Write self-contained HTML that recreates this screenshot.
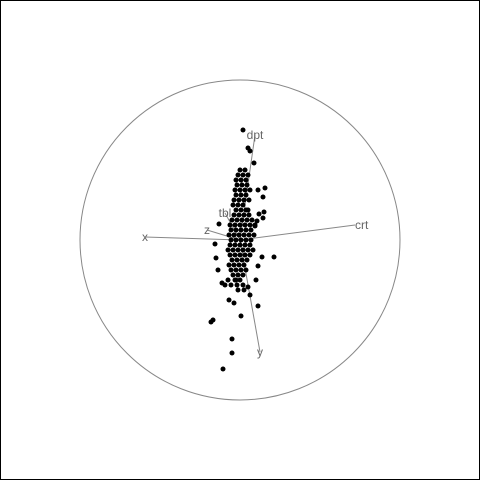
<!DOCTYPE html>
<html><head><meta charset="utf-8"><style>
html,body{margin:0;padding:0;background:#fff}
svg{display:block}
text{font-family:"Liberation Sans",sans-serif;font-size:12px;fill:#666}
</style></head><body>
<svg id="chart" width="480" height="480">
<rect x="0.5" y="0.5" width="479" height="479" fill="#fff" stroke="#000"/>
<circle cx="240" cy="240" r="160" fill="none" stroke="#888"/>
<g id="axes"></g>
<g id="pts"></g>
</svg>
<script>
// projected point positions (units: pixel offset from centre)
const ptX = [3,8,10,14,18,25,23,24,19,23,17,15,-21,-25,34,22,18,-22,-24,-18,-15,-29,-27,1,-8,-8,-17,18,8,16,10,-6,-11,-4,
0,5,-2,3,8,-4,1,6,-3,2,7,-5,0,5,10,-4,1,6,-6,-1,4,9,-7,-2,3,8,-4,1,6,-6,-1,4,9,-8,-3,2,7,12,-10,-5,0,5,10,15,-9,-4,1,6,11,-11,-6,-1,4,9,14,-9,-4,1,6,11,-10,-5,0,5,10,-12,-7,-2,3,8,13,-10,-5,0,5,10,-8,-3,2,7,-11,-6,-1,4,-9,-4,1,6,-7,-2,3,-12,-5,0,-9,-3,3,-2,4];
const ptY = [-110,-92,-89,-77,-50,-52,-43,-28,-26,-22,-19,-14,-16,4,17,17,26,30,18,43,45,82,80,76,99,113,129,66,47,40,55,63,60,40,
-70,-70,-65,-65,-65,-60,-60,-60,-55,-55,-55,-50,-50,-50,-50,-45,-45,-45,-40,-40,-40,-40,-35,-35,-35,-30,-30,-30,-30,-25,-25,-25,-25,-20,-20,-20,-20,-20,-15,-15,-15,-15,-15,-15,-10,-10,-10,-10,-10,-5,-5,-5,-5,-5,-5,0,0,0,0,0,5,5,5,5,5,10,10,10,10,10,10,15,15,15,15,15,20,20,20,20,25,25,25,25,30,30,30,30,35,35,35,40,40,40,45,45,45,50,50];
// axis directions (end offsets) and labels
const axisNames = ["dpt","crt","x","y","z","tbl"];
const axisDX = [15,115,-95,20,-33,-15];
const axisDY = [-105,-15,-3,112,-10,-27];
const cx = 240, cy = 240;
const sx = v => cx + v, sy = v => cy + v;
const NS = "http://www.w3.org/2000/svg";
const ag = document.getElementById('axes');
axisNames.forEach((n,i)=>{
  const l = document.createElementNS(NS,'line');
  l.setAttribute('x1',cx);l.setAttribute('y1',cy);
  l.setAttribute('x2',sx(axisDX[i]));l.setAttribute('y2',sy(axisDY[i]));
  l.setAttribute('stroke','#888');
  
  
  ag.appendChild(l);
  const t = document.createElementNS(NS,'text');
  t.setAttribute('x',sx(axisDX[i]));t.setAttribute('y',sy(axisDY[i])+4);
  t.setAttribute('text-anchor', axisDX[i] < -20 ? 'middle' : (axisDX[i] > 50 ? 'start' : 'middle'));
  t.textContent = n;
  
  
  ag.appendChild(t);
});
const pg = document.getElementById('pts');
ptX.forEach((v,i)=>{
  const c = document.createElementNS(NS,'circle');
  c.setAttribute('cx',sx(v));c.setAttribute('cy',sy(ptY[i]));c.setAttribute('r',2.5);
  c.setAttribute('fill','#000');
  
  
  pg.appendChild(c);
});
</script>
</body></html>
